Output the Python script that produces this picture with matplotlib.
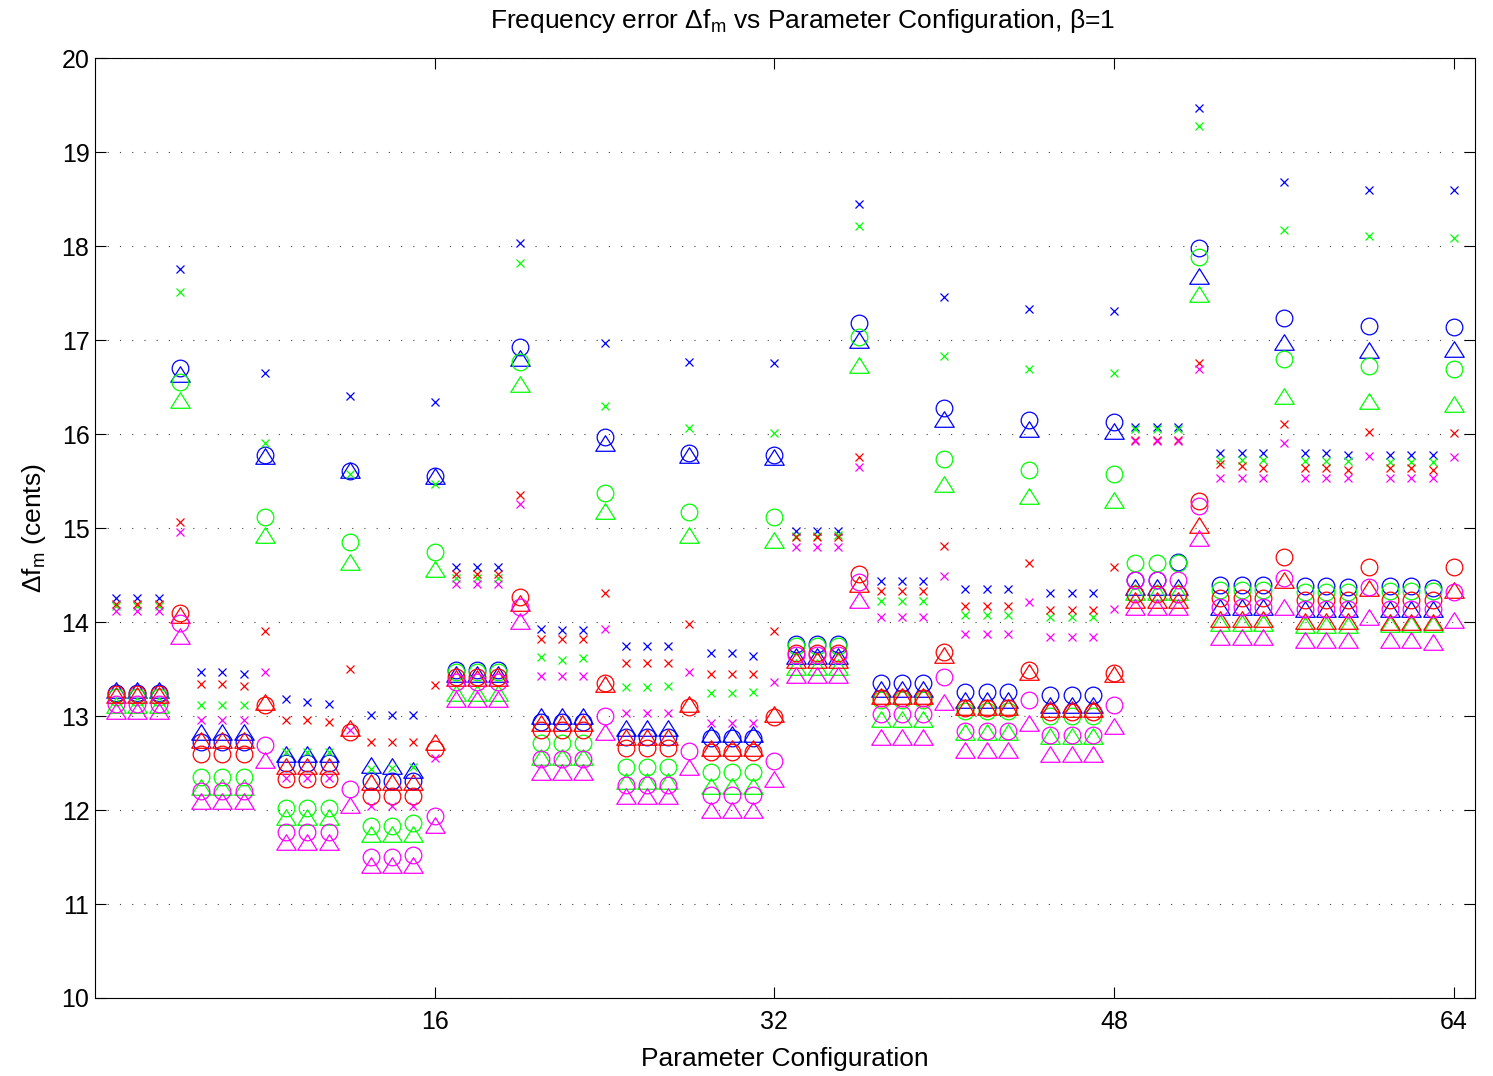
import matplotlib
matplotlib.use('Agg')

import numpy as np
import matplotlib.pyplot as plt
from matplotlib.path import Path

# ------------------------------------------------------------
# datos: 64 configuraciones, 4 colores x 3 marcadores
# ------------------------------------------------------------
config = np.arange(1, 65)

blue_x = [14.26, 14.26, 14.26, 17.76, 13.47, 13.47, 13.45, 16.65,
          13.18, 13.15, 13.13, 16.40, 13.01, 13.01, 13.01, 16.34,
          14.59, 14.59, 14.59, 18.03, 13.93, 13.92, 13.92, 16.97,
          13.74, 13.74, 13.74, 16.77, 13.67, 13.67, 13.64, 16.76,
          14.97, 14.97, 14.97, 18.45, 14.44, 14.44, 14.44, 17.46,
          14.35, 14.35, 14.35, 17.33, 14.31, 14.31, 14.31, 17.31,
          16.07, 16.07, 16.07, 19.47, 15.80, 15.80, 15.80, 18.68,
          15.80, 15.80, 15.78, 18.60, 15.78, 15.78, 15.78, 18.60]
green_x = [14.17, 14.17, 14.17, 17.51, 13.12, 13.12, 13.12, 15.90,
           12.62, 12.62, 12.62, 15.57, 12.44, 12.45, 12.46, 15.47,
           14.47, 14.47, 14.47, 17.82, 13.63, 13.60, 13.62, 16.30,
           13.31, 13.31, 13.32, 16.06, 13.24, 13.24, 13.26, 16.01,
           14.92, 14.92, 14.93, 18.21, 14.22, 14.22, 14.22, 16.83,
           14.08, 14.08, 14.08, 16.69, 14.05, 14.05, 14.05, 16.65,
           16.05, 16.05, 16.05, 19.28, 15.72, 15.72, 15.72, 18.17,
           15.71, 15.71, 15.71, 18.11, 15.70, 15.70, 15.70, 18.09]
red_x = [14.19, 14.19, 14.19, 15.06, 13.34, 13.34, 13.32, 13.90,
         12.96, 12.96, 12.94, 13.50, 12.72, 12.72, 12.72, 13.33,
         14.51, 14.51, 14.51, 15.35, 13.82, 13.82, 13.82, 14.31,
         13.56, 13.56, 13.56, 13.98, 13.45, 13.45, 13.45, 13.90,
         14.90, 14.90, 14.90, 15.76, 14.33, 14.33, 14.33, 14.81,
         14.17, 14.17, 14.17, 14.63, 14.13, 14.13, 14.13, 14.59,
         15.94, 15.94, 15.94, 16.76, 15.68, 15.66, 15.64, 16.11,
         15.64, 15.64, 15.62, 16.02, 15.64, 15.64, 15.62, 16.01]
magenta_x = [14.12, 14.12, 14.12, 14.96, 12.96, 12.96, 12.96, 13.47,
             12.34, 12.34, 12.34, 12.85, 12.04, 12.04, 12.04, 12.55,
             14.41, 14.41, 14.41, 15.26, 13.43, 13.43, 13.43, 13.93,
             13.03, 13.03, 13.03, 13.47, 12.93, 12.93, 12.93, 13.36,
             14.80, 14.80, 14.80, 15.65, 14.05, 14.05, 14.05, 14.49,
             13.87, 13.87, 13.87, 14.21, 13.84, 13.84, 13.84, 14.14,
             15.93, 15.93, 15.93, 16.69, 15.53, 15.53, 15.53, 15.90,
             15.53, 15.53, 15.53, 15.77, 15.53, 15.53, 15.53, 15.76]

blue_o = [13.24, 13.24, 13.24, 16.70, 12.72, 12.72, 12.72, 15.78,
          12.50, 12.50, 12.50, 15.61, 12.31, 12.31, 12.31, 15.55,
          13.49, 13.49, 13.49, 16.93, 12.94, 12.94, 12.94, 15.97,
          12.78, 12.78, 12.78, 15.80, 12.77, 12.77, 12.77, 15.78,
          13.77, 13.77, 13.77, 17.18, 13.35, 13.35, 13.35, 16.28,
          13.26, 13.26, 13.26, 16.15, 13.22, 13.22, 13.22, 16.13,
          14.45, 14.45, 14.64, 17.98, 14.39, 14.39, 14.39, 17.24,
          14.38, 14.38, 14.37, 17.15, 14.38, 14.38, 14.36, 17.14]
green_o = [13.20, 13.20, 13.20, 16.55, 12.35, 12.35, 12.35, 15.12,
           12.02, 12.02, 12.02, 14.85, 11.83, 11.83, 11.86, 14.74,
           13.47, 13.47, 13.47, 16.77, 12.71, 12.71, 12.71, 15.37,
           12.46, 12.46, 12.46, 15.17, 12.40, 12.40, 12.40, 15.12,
           13.74, 13.74, 13.74, 17.03, 13.17, 13.17, 13.17, 15.73,
           13.05, 13.05, 13.05, 15.62, 13.00, 13.00, 13.00, 15.58,
           14.63, 14.63, 14.63, 17.88, 14.34, 14.34, 14.34, 16.80,
           14.32, 14.32, 14.32, 16.72, 14.33, 14.33, 14.33, 16.69]
red_o = [13.23, 13.23, 13.23, 14.10, 12.60, 12.60, 12.60, 13.12,
         12.33, 12.33, 12.33, 12.83, 12.15, 12.15, 12.15, 12.65,
         13.42, 13.42, 13.42, 14.27, 12.85, 12.85, 12.85, 13.35,
         12.66, 12.66, 12.66, 13.10, 12.62, 12.62, 12.62, 12.99,
         13.67, 13.67, 13.67, 14.51, 13.19, 13.19, 13.19, 13.68,
         13.09, 13.09, 13.09, 13.49, 13.04, 13.04, 13.04, 13.46,
         14.30, 14.30, 14.30, 15.29, 14.26, 14.26, 14.26, 14.69,
         14.23, 14.23, 14.23, 14.59, 14.23, 14.23, 14.23, 14.59]
magenta_o = [13.13, 13.13, 13.13, 13.99, 12.20, 12.20, 12.20, 12.69,
             11.77, 11.77, 11.77, 12.22, 11.50, 11.50, 11.52, 11.94,
             13.36, 13.36, 13.36, 14.16, 12.54, 12.54, 12.54, 13.00,
             12.27, 12.27, 12.27, 12.63, 12.16, 12.16, 12.16, 12.52,
             13.65, 13.65, 13.65, 14.43, 13.02, 13.02, 13.02, 13.41,
             12.84, 12.84, 12.84, 13.17, 12.80, 12.80, 12.80, 13.12,
             14.45, 14.45, 14.45, 15.23, 14.16, 14.16, 14.16, 14.47,
             14.14, 14.14, 14.14, 14.37, 14.14, 14.14, 14.14, 14.32]

blue_tri = [13.28, 13.28, 13.28, 16.64, 12.83, 12.83, 12.83, 15.77,
            12.60, 12.60, 12.60, 15.62, 12.48, 12.47, 12.43, 15.55,
            13.45, 13.45, 13.45, 16.81, 13.00, 13.00, 13.00, 15.90,
            12.87, 12.87, 12.87, 15.78, 12.81, 12.81, 12.81, 15.76,
            13.64, 13.64, 13.64, 17.00, 13.29, 13.29, 13.29, 16.16,
            13.17, 13.17, 13.17, 16.05, 13.12, 13.12, 13.12, 16.03,
            14.37, 14.37, 14.37, 17.68, 14.16, 14.16, 14.16, 16.98,
            14.14, 14.14, 14.14, 16.89, 14.14, 14.14, 14.14, 16.90]
green_tri = [13.12, 13.12, 13.12, 16.36, 12.24, 12.24, 12.24, 14.93,
             11.93, 11.93, 11.93, 14.64, 11.74, 11.74, 11.74, 14.56,
             13.25, 13.25, 13.25, 16.53, 12.56, 12.56, 12.56, 15.18,
             12.31, 12.31, 12.31, 14.93, 12.26, 12.26, 12.26, 14.87,
             13.52, 13.52, 13.52, 16.74, 12.97, 12.97, 12.97, 15.47,
             12.83, 12.83, 12.83, 15.34, 12.79, 12.79, 12.79, 15.30,
             14.32, 14.32, 14.32, 17.49, 13.99, 13.99, 13.99, 16.40,
             13.97, 13.97, 13.97, 16.35, 13.98, 13.98, 13.98, 16.32]
red_tri = [13.22, 13.22, 13.22, 14.07, 12.74, 12.74, 12.74, 13.15,
           12.47, 12.47, 12.47, 12.87, 12.30, 12.30, 12.30, 12.72,
           13.40, 13.40, 13.40, 14.20, 12.93, 12.93, 12.93, 13.34,
           12.78, 12.78, 12.78, 13.13, 12.66, 12.66, 12.66, 13.02,
           13.60, 13.60, 13.60, 14.40, 13.21, 13.21, 13.21, 13.65,
           13.10, 13.10, 13.10, 13.47, 13.07, 13.07, 13.07, 13.45,
           14.23, 14.23, 14.23, 15.03, 14.03, 14.03, 14.03, 14.45,
           14.01, 14.01, 14.01, 14.36, 14.00, 14.00, 14.00, 14.34]
magenta_tri = [13.05, 13.05, 13.05, 13.85, 12.10, 12.10, 12.10, 12.53,
               11.66, 11.66, 11.66, 12.05, 11.41, 11.41, 11.41, 11.84,
               13.18, 13.18, 13.18, 14.01, 12.40, 12.40, 12.40, 12.83,
               12.15, 12.15, 12.15, 12.46, 12.00, 12.00, 12.00, 12.33,
               13.44, 13.44, 13.44, 14.23, 12.78, 12.78, 12.78, 13.15,
               12.64, 12.64, 12.64, 12.93, 12.60, 12.60, 12.60, 12.89,
               14.16, 14.16, 14.16, 14.89, 13.84, 13.84, 13.84, 14.16,
               13.81, 13.81, 13.81, 14.05, 13.81, 13.81, 13.79, 14.02]

# ------------------------------------------------------------
# estilo
# ------------------------------------------------------------
plt.rcParams['font.family'] = ['Liberation Sans', 'DejaVu Sans']
plt.rcParams['mathtext.default'] = 'regular'

# triangulo ancho tipo MATLAB
tri = Path([(-1, -0.8), (1, -0.8), (0, 0.8), (-1, -0.8)], closed=True)

colores = {'b': '#0000ff', 'g': '#00ff00', 'r': '#ff0000', 'm': '#ff00ff'}
series = [
    (blue_x, 'b', 'x', 6), (blue_o, 'b', 'o', 12), (blue_tri, 'b', tri, 14),
    (green_x, 'g', 'x', 6), (green_o, 'g', 'o', 12), (green_tri, 'g', tri, 14),
    (red_x, 'r', 'x', 6), (red_o, 'r', 'o', 12), (red_tri, 'r', tri, 14),
    (magenta_x, 'm', 'x', 6), (magenta_o, 'm', 'o', 12), (magenta_tri, 'm', tri, 14),
]

fig = plt.figure(figsize=(14.93, 10.76), dpi=100)
ax = fig.add_axes([0.0636, 0.0725, 0.9244, 0.8735])

for valores, c, mk, ms in series:
    ax.plot(config, valores, linestyle='none', marker=mk, markersize=ms,
            markerfacecolor='none', markeredgecolor=colores[c], markeredgewidth=0.9)

ax.set_xlim(0, 65)
ax.set_ylim(10, 20)
ax.set_xticks([16, 32, 48, 64])
ax.set_yticks(np.arange(10, 21, 1))
ax.tick_params(direction='in', length=8, width=0.8, labelsize=18,
               top=True, right=True)
ax.tick_params(axis='x', pad=9)
ax.tick_params(axis='y', pad=4)
ax.yaxis.grid(True, linestyle=(0, (1, 10)), color='#444444', linewidth=0.8)
for s in ax.spines.values():
    s.set_linewidth(0.8)

titulo = ax.set_title('Frequency error Δf$_m$ vs Parameter Configuration, β=1', fontsize=19, pad=22)
titulo.set_x(0.513)
ax.set_xlabel('Parameter Configuration', fontsize=19, labelpad=9)
ax.set_ylabel('Δf$_m$ (cents)', fontsize=19, labelpad=10)

fig.savefig('out.png', dpi=100)
